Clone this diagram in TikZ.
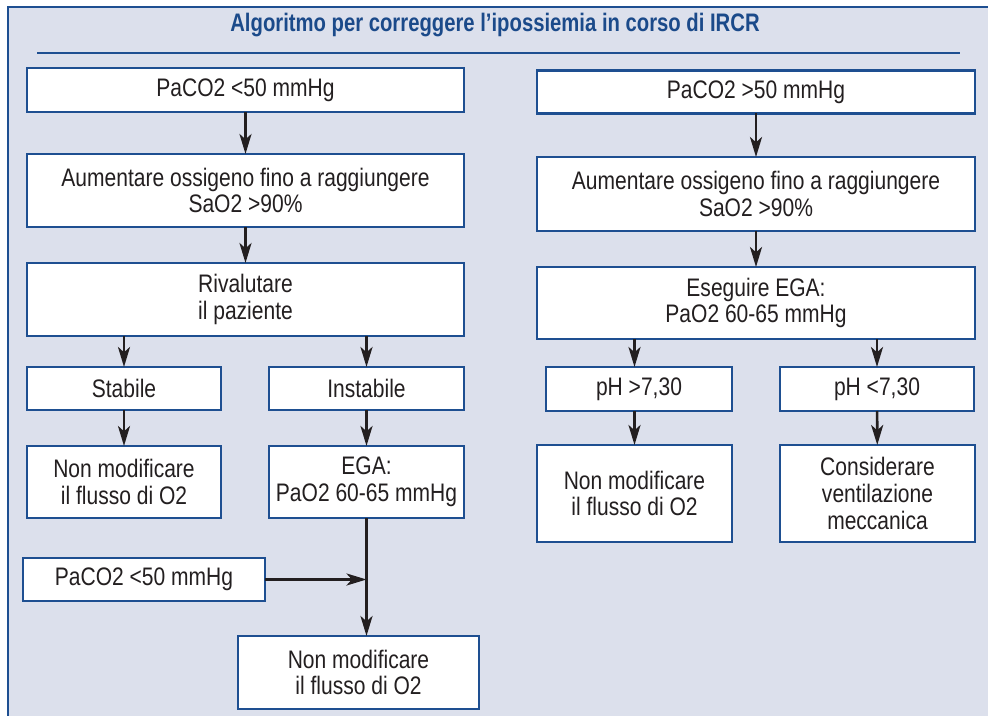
\documentclass[tikz,border=0pt]{standalone}
\usepackage{fontspec}
\setmainfont[FakeStretch=0.83]{Liberation Sans}
\newfontfamily\titlefont[FakeStretch=0.8]{Liberation Sans}
\usetikzlibrary{arrows.meta}
\definecolor{sfondo}{HTML}{DCE0EC}
\definecolor{bordo}{HTML}{1E4F91}
\definecolor{titolo}{HTML}{1B4A8A}
\definecolor{testo}{HTML}{231F20}
\tikzset{boxsize/.style 2 args={minimum width=#1*0.75pt,minimum height=#2*0.75pt}}
\begin{document}
\begin{tikzpicture}[x=0.75pt,y=-0.75pt,
    arr/.style={-{Stealth[length=15pt,width=9pt,inset=4pt]},line width=2pt,draw=testo}]
    \tikzstyle{box}=[draw=bordo,line width=2pt,fill=white,inner sep=0pt,outer sep=0pt,
        align=center,text=testo,font=\fontsize{19}{20}\selectfont]

    \useasboundingbox (0,0) rectangle (988,716);
    \clip (0,0) rectangle (988,716);
    \fill[white] (0,0) rectangle (988,716);
    \fill[sfondo] (8,7) rectangle (1000,730);
    \draw[bordo,line width=1.5pt] (8,730) -- (8,7) -- (1000,7);

    \node[text=titolo,font=\titlefont\bfseries\fontsize{19}{21}\selectfont] (titolo) at (495,25) {Algoritmo per correggere l’ipossiemia in corso di IRCR};
    \draw[bordo,line width=1.2pt] (37,53) -- (960,53);

    \node[box,boxsize={437}{44}] (lpaco) at (245.5,90) {PaCO2 <50 mmHg};
    \node[box,boxsize={437}{73}] (lossi) at (245.5,190.5) {Aumentare ossigeno fino a raggiungere\\SaO2 >90\%};
    \node[box,boxsize={437}{73},align=left] (lrival) at (245.5,299.5) {Rivalutare\\il paziente};
    \node[box,boxsize={194}{43}] (lstab) at (124,388.5) {Stabile};
    \node[box,boxsize={195}{43}] (linstab) at (366.5,388.5) {Instabile};
    \node[box,boxsize={194}{72}] (lnonmod) at (124,482) {Non modificare\\il flusso di O2};
    \node[box,boxsize={195}{72}] (lega) at (366.5,482) {EGA:\\PaO2 60-65 mmHg};
    \node[box,boxsize={242}{43}] (lpacob) at (144,579.5) {PaCO2 <50 mmHg};
    \node[box,boxsize={241}{73}] (lnonmodb) at (358.5,672.5) {Non modificare\\il flusso di O2};

    \node[box,boxsize={438}{43}] (rpaco) at (756,92) {PaCO2 >50 mmHg};
    \node[box,boxsize={438}{74}] (rossi) at (756,194) {Aumentare ossigeno fino a raggiungere\\SaO2 >90\%};
    \node[box,boxsize={438}{72}] (resegui) at (756,303) {Eseguire EGA:\\PaO2 60-65 mmHg};
    \node[box,boxsize={186}{44}] (rphalto) at (639,389) {pH >7,30};
    \node[box,boxsize={194}{44}] (rphbasso) at (877,389) {pH <7,30};
    \node[box,boxsize={195}{97}] (rnonmod) at (634.5,493.5) {Non modificare\\il flusso di O2};
    \node[box,boxsize={195}{97}] (rcons) at (877.5,493.5) {Considerare\\ventilazione\\meccanica};

    \draw[arr] (lpaco) -- (lossi);
    \draw[arr] (lossi) -- (lrival);
    \draw[arr] (lrival.south -| lstab) -- (lstab);
    \draw[arr] (lrival.south -| linstab) -- (linstab);
    \draw[arr] (lstab) -- (lnonmod);
    \draw[arr] (linstab) -- (lega);
    \draw[arr] (lega) -- (lnonmodb.north -| lega);
    \draw[arr] (lpacob) -- (lpacob -| lega);

    \draw[arr] (rpaco) -- (rossi);
    \draw[arr] (rossi) -- (resegui);
    \draw[arr] (resegui.south -| rnonmod) -- (rphalto.north -| rnonmod);
    \draw[arr] (resegui.south -| rphbasso) -- (rphbasso);
    \draw[arr] (rphalto.south -| rnonmod) -- (rnonmod);
    \draw[arr] (rphbasso) -- (rcons);

\end{tikzpicture}
\end{document}
